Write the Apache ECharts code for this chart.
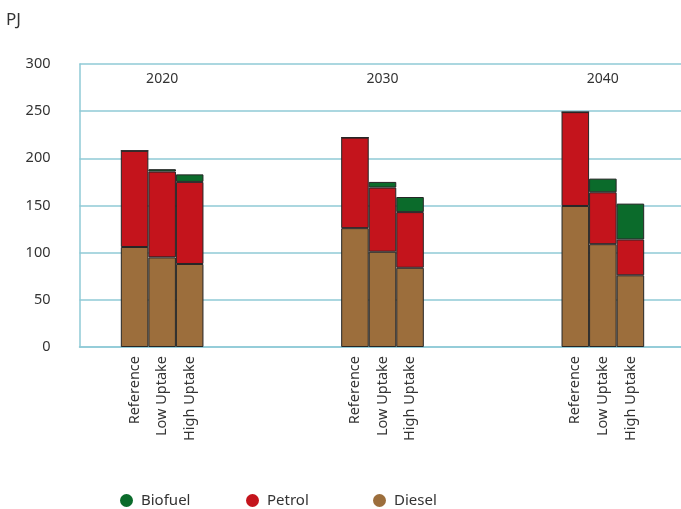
<!DOCTYPE html>
<html>
<head>
<meta charset="utf-8">
<script src="https://cdn.jsdelivr.net/npm/echarts@6/dist/echarts.min.js"></script>
<style>
  html, body { margin: 0; padding: 0; background: #fff; }
  #chart { width: 681px; height: 509px; }
</style>
</head>
<body>
<div id="chart"></div>
<script>
// 数据
var years = ['2020', '2030', '2040'];
var scenarios = ['Reference', 'Low Uptake', 'High Uptake'];
var yTicks = [0, 50, 100, 150, 200, 250, 300];
// order: 2020 Ref/Low/High, 2030 Ref/Low/High, 2040 Ref/Low/High
var diesel = [106, 95, 88, 126, 101, 84, 149.5, 109, 76];
var petrol = [102, 91, 87, 96, 68, 59, 99.5, 55, 38];
var biofuel = [0, 2.5, 8, 0, 6, 16, 0, 14.5, 38];
var legendNames = ['Biofuel', 'Petrol', 'Diesel'];

// slot layout on the category axis (boundaryGap false)
var slotCount = 23;
var groupStart = 2;
var groupStep = 8;

var categories = [];
var yearAt = {};
for (var i = 0; i < slotCount; i++) categories.push('');
for (var g = 0; g < years.length; g++) {
  for (var s = 0; s < scenarios.length; s++) {
    categories[groupStart + g * groupStep + s] = scenarios[s];
  }
  yearAt[groupStart + g * groupStep + 1] = years[g];
}

function slotData(values) {
  var arr = [];
  for (var i = 0; i < slotCount; i++) arr.push(null);
  for (var g = 0; g < years.length; g++) {
    for (var s = 0; s < scenarios.length; s++) {
      arr[groupStart + g * groupStep + s] = values[g * scenarios.length + s];
    }
  }
  return arr;
}

var gridColor = '#8fcad6';
var textColor = '#333333';
var fontFamily = 'Noto Sans';

function barSeries(name, values, color) {
  return {
    name: name,
    type: 'bar',
    stack: 'total',
    barWidth: '100%',
    itemStyle: {
      color: color,
      borderColor: '#262626',
      borderWidth: 1
    },
    data: slotData(values)
  };
}

// 图例：每项单独放置
var legendLeft = [115, 241, 368];
var legends = [];
for (var k = 0; k < legendNames.length; k++) {
  legends.push({
    left: legendLeft[k],
    top: 488,
    icon: 'circle',
    itemWidth: 13,
    itemHeight: 13,
    itemGap: 0,
    itemStyle: { borderWidth: 0 },
    data: [legendNames[k]],
    textStyle: {
      fontFamily: fontFamily,
      fontSize: 15,
      color: textColor,
      padding: [0, 0, 0, 3]
    }
  });
}

var myChart = echarts.init(document.getElementById('chart'));
var option = {
  animation: false,
  textStyle: { fontFamily: fontFamily },
  grid: {
    left: 79.5,
    right: -4.5,
    top: 64,
    bottom: 162,
    outerBoundsMode: 'none'
  },
  title: {
    text: 'PJ',
    left: 1,
    top: 7,
    textStyle: {
      fontFamily: fontFamily,
      fontSize: 17,
      fontWeight: 'normal',
      color: textColor
    }
  },
  legend: legends,
  xAxis: [
    {
      type: 'category',
      position: 'bottom',
      boundaryGap: false,
      data: categories,
      axisLine: { show: true, lineStyle: { color: gridColor, width: 1.5 } },
      axisTick: { show: false },
      splitLine: { show: false },
      axisLabel: {
        interval: 0,
        rotate: 90,
        margin: 9,
        fontSize: 14.5,
        color: textColor,
        fontFamily: fontFamily
      }
    },
    {
      type: 'category',
      position: 'top',
      boundaryGap: false,
      data: categories,
      axisLine: { show: false },
      axisTick: { show: false },
      splitLine: { show: false },
      axisLabel: {
        inside: true,
        interval: 0,
        margin: 8,
        fontSize: 14,
        color: textColor,
        fontFamily: fontFamily,
        formatter: function (value, index) {
          return yearAt[index] || '';
        }
      }
    }
  ],
  yAxis: {
    type: 'value',
    min: yTicks[0],
    max: yTicks[yTicks.length - 1],
    interval: 50,
    axisLine: { show: true, lineStyle: { color: gridColor, width: 1.5 } },
    axisTick: { show: false },
    splitLine: { show: true, lineStyle: { color: gridColor, width: 1.5 } },
    axisLabel: {
      margin: 29,
      fontSize: 14.5,
      color: textColor,
      fontFamily: fontFamily
    }
  },
  series: [
    barSeries('Diesel', diesel, '#9c6e3c'),
    barSeries('Petrol', petrol, '#c4141c'),
    barSeries('Biofuel', biofuel, '#0b6b2b')
  ]
};
option && myChart.setOption(option);
</script>
</body>
</html>
